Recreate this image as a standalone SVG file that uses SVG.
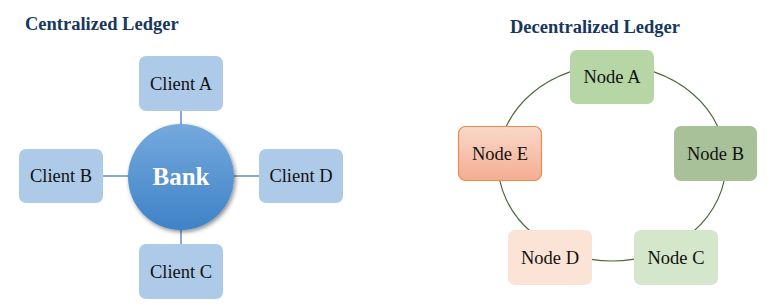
<svg xmlns="http://www.w3.org/2000/svg" width="777" height="307" viewBox="0 0 777 307">
  <style>
    .title { font-family: "Liberation Serif", "Times New Roman", serif; font-weight: bold; font-size: 18.5px; fill: #17375e; }
    .label { font-family: "Liberation Serif", "Times New Roman", serif; font-size: 18.5px; fill: #111; text-anchor: middle; }
    .bank { font-family: "Liberation Serif", "Times New Roman", serif; font-weight: bold; font-size: 25px; fill: #fff; text-anchor: middle; }
    .client { fill: #adcbe9; }
    .spoke { stroke: #4a7bc8; stroke-width: 1.3; fill: none; }
    .ring { stroke: #4e6b3a; stroke-width: 1.2; fill: none; }
  </style>
  <defs>
    <linearGradient id="bankFill" x1="0" y1="0" x2="0" y2="1">
      <stop offset="0" stop-color="#74a9dd"/>
      <stop offset="1" stop-color="#3f82c7"/>
    </linearGradient>
    <linearGradient id="nodeEFill" x1="0" y1="0" x2="0" y2="1">
      <stop offset="0" stop-color="#fad8ca"/>
      <stop offset="1" stop-color="#f3ad91"/>
    </linearGradient>
    <filter id="shadow" x="-20%" y="-20%" width="150%" height="150%">
      <feDropShadow dx="1.5" dy="2" stdDeviation="2" flood-color="#000" flood-opacity="0.45"/>
    </filter>
  </defs>

  <!-- Titles -->
  <text class="title" x="25" y="30">Centralized Ledger</text>
  <text class="title" x="510" y="33">Decentralized Ledger</text>

  <!-- Connectors -->
  <g id="connectors">
    <line class="spoke" x1="181" y1="111" x2="181" y2="126"/>
    <line class="spoke" x1="181" y1="228" x2="181" y2="244"/>
    <line class="spoke" x1="103" y1="176" x2="130" y2="176"/>
    <line class="spoke" x1="233" y1="176" x2="259" y2="176"/>
    <ellipse class="ring" cx="612" cy="163" rx="114" ry="98"/>
  </g>

  <!-- Centralized ledger nodes -->
  <g id="bank">
    <circle cx="181" cy="177" r="53" fill="url(#bankFill)" filter="url(#shadow)"/>
    <text class="bank" x="181" y="185">Bank</text>
  </g>
  <g id="client-a">
    <rect class="client" x="139" y="56" width="84" height="55" rx="7"/>
    <text class="label" x="181" y="90">Client A</text>
  </g>
  <g id="client-b">
    <rect class="client" x="19" y="149" width="84" height="54" rx="7"/>
    <text class="label" x="61" y="182">Client B</text>
  </g>
  <g id="client-d">
    <rect class="client" x="259" y="149" width="84" height="54" rx="7"/>
    <text class="label" x="301" y="182">Client D</text>
  </g>
  <g id="client-c">
    <rect class="client" x="139" y="244" width="84" height="55" rx="7"/>
    <text class="label" x="181" y="278">Client C</text>
  </g>

  <!-- Decentralized ledger nodes -->
  <g id="node-a">
    <rect x="570" y="50" width="84" height="54" rx="7" fill="#b6d6a6"/>
    <text class="label" x="612" y="83">Node A</text>
  </g>
  <g id="node-b">
    <rect x="674" y="126" width="83" height="55" rx="7" fill="#a9c199"/>
    <text class="label" x="715.5" y="160">Node B</text>
  </g>
  <g id="node-c">
    <rect x="634" y="230" width="84" height="55" rx="7" fill="#d5e7ca"/>
    <text class="label" x="676" y="264">Node C</text>
  </g>
  <g id="node-d">
    <rect x="508" y="230" width="84" height="55" rx="7" fill="#fbe3d6"/>
    <text class="label" x="550" y="264">Node D</text>
  </g>
  <g id="node-e">
    <rect x="458.5" y="126.5" width="83" height="54" rx="7" fill="url(#nodeEFill)" stroke="#ef8a4f" stroke-width="1.2"/>
    <text class="label" x="500" y="160">Node E</text>
  </g>
</svg>
